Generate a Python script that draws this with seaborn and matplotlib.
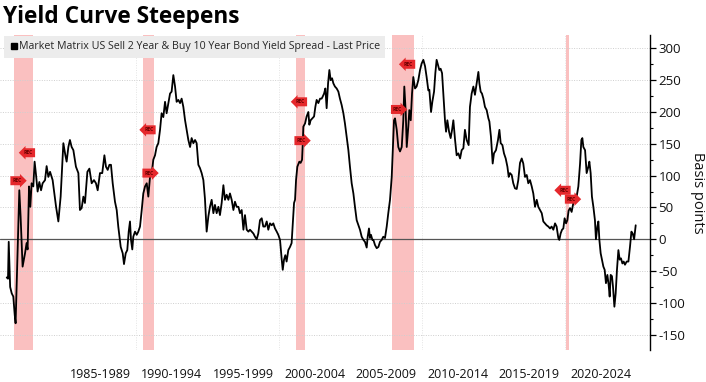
import matplotlib
matplotlib.use("Agg")
import matplotlib.pyplot as plt
import seaborn as sns
import pandas as pd
from matplotlib.lines import Line2D
from matplotlib.ticker import MultipleLocator

# ---------------- data ----------------
years = [
    1980.96, 1981.05, 1981.10, 1981.20, 1981.31, 1981.42, 1981.52, 1981.58, 1981.84, 1981.93,
    1982.07, 1982.24, 1982.35, 1982.42, 1982.52, 1982.61, 1982.70, 1982.82, 1982.91, 1983.01,
    1983.12, 1983.24, 1983.36, 1983.47, 1983.64, 1983.75, 1983.87, 1983.99, 1984.17, 1984.41,
    1984.57, 1984.73, 1984.92, 1985.06, 1985.15, 1985.27, 1985.38, 1985.50, 1985.62, 1985.80,
    1985.97, 1986.08, 1986.20, 1986.32, 1986.43, 1986.60, 1986.74, 1986.90, 1987.06, 1987.20,
    1987.32, 1987.48, 1987.64, 1987.79, 1987.90, 1988.02, 1988.14, 1988.25, 1988.37, 1988.53,
    1988.65, 1988.76, 1988.93, 1989.07, 1989.16, 1989.28, 1989.39, 1989.49, 1989.58, 1989.65,
    1989.74, 1989.81, 1989.93, 1990.05, 1990.16, 1990.28, 1990.40, 1990.51, 1990.63, 1990.75,
    1990.86, 1990.98, 1991.10, 1991.21, 1991.33, 1991.44, 1991.56, 1991.68, 1991.79, 1991.91,
    1992.03, 1992.14, 1992.26, 1992.38, 1992.49, 1992.61, 1992.73, 1992.84, 1992.96, 1993.08,
    1993.19, 1993.31, 1993.43, 1993.54, 1993.66, 1993.78, 1993.89, 1994.01, 1994.13, 1994.24,
    1994.36, 1994.47, 1994.59, 1994.71, 1994.82, 1994.94, 1995.06, 1995.17, 1995.29, 1995.41,
    1995.52, 1995.64, 1995.76, 1995.87, 1995.99, 1996.11, 1996.22, 1996.34, 1996.46, 1996.57,
    1996.69, 1996.81, 1996.92, 1997.04, 1997.16, 1997.27, 1997.39, 1997.51, 1997.62, 1997.74,
    1997.86, 1997.97, 1998.09, 1998.21, 1998.32, 1998.44, 1998.55, 1998.67, 1998.79, 1998.90,
    1999.02, 1999.14, 1999.25, 1999.37, 1999.49, 1999.60, 1999.72, 1999.84, 1999.95, 2000.07,
    2000.19, 2000.26, 2000.35, 2000.44, 2000.53, 2000.65, 2000.77, 2000.88, 2000.95, 2001.05,
    2001.12, 2001.19, 2001.28, 2001.42, 2001.51, 2001.61, 2001.65, 2001.70, 2001.82, 2001.93,
    2002.05, 2002.12, 2002.21, 2002.33, 2002.45, 2002.54, 2002.63, 2002.75, 2002.87, 2002.98,
    2003.05, 2003.15, 2003.24, 2003.33, 2003.43, 2003.52, 2003.61, 2003.71, 2003.80, 2003.91,
    2004.03, 2004.15, 2004.26, 2004.38, 2004.50, 2004.61, 2004.73, 2004.85, 2004.96, 2005.08,
    2005.20, 2005.31, 2005.43, 2005.55, 2005.66, 2005.78, 2005.90, 2006.01, 2006.13, 2006.20,
    2006.29, 2006.36, 2006.43, 2006.53, 2006.60, 2006.71, 2006.83, 2006.95, 2007.06, 2007.18,
    2007.29, 2007.41, 2007.53, 2007.64, 2007.76, 2007.88, 2008.04, 2008.11, 2008.23, 2008.34,
    2008.46, 2008.58, 2008.69, 2008.76, 2008.86, 2008.93, 2009.04, 2009.11, 2009.21, 2009.30,
    2009.39, 2009.51, 2009.62, 2009.74, 2009.86, 2009.97, 2010.09, 2010.21, 2010.32, 2010.44,
    2010.51, 2010.63, 2010.72, 2010.84, 2010.93, 2011.02, 2011.14, 2011.21, 2011.30, 2011.40,
    2011.49, 2011.61, 2011.68, 2011.77, 2011.89, 2012.00, 2012.10, 2012.19, 2012.31, 2012.42,
    2012.54, 2012.66, 2012.77, 2012.89, 2013.00, 2013.12, 2013.26, 2013.35, 2013.47, 2013.59,
    2013.70, 2013.82, 2013.94, 2014.01, 2014.10, 2014.19, 2014.29, 2014.40, 2014.52, 2014.64,
    2014.71, 2014.82, 2014.94, 2015.03, 2015.17, 2015.31, 2015.41, 2015.50, 2015.62, 2015.73,
    2015.85, 2015.97, 2016.06, 2016.15, 2016.27, 2016.38, 2016.50, 2016.62, 2016.73, 2016.85,
    2016.97, 2017.08, 2017.20, 2017.32, 2017.43, 2017.55, 2017.67, 2017.78, 2017.90, 2018.02,
    2018.13, 2018.25, 2018.37, 2018.48, 2018.60, 2018.71, 2018.83, 2018.95, 2019.06, 2019.18,
    2019.30, 2019.41, 2019.53, 2019.60, 2019.69, 2019.79, 2019.88, 2019.97, 2020.07, 2020.16,
    2020.25, 2020.35, 2020.46, 2020.58, 2020.70, 2020.81, 2020.93, 2021.05, 2021.14, 2021.21,
    2021.28, 2021.40, 2021.51, 2021.63, 2021.70, 2021.79, 2021.88, 2021.98, 2022.09, 2022.16,
    2022.26, 2022.33, 2022.40, 2022.49, 2022.58, 2022.68, 2022.77, 2022.86, 2022.96, 2023.05,
    2023.12, 2023.19, 2023.28, 2023.35, 2023.45, 2023.54, 2023.63, 2023.73, 2023.82, 2023.91,
    2024.01, 2024.10, 2024.19, 2024.31, 2024.43, 2024.54, 2024.64, 2024.73, 2024.83, 2024.94,
]
spread = [
    -60, -62, -4, -75, -85, -90, -119, -132, 77, 36,
    -43, -22, -6, -16, 83, 51, 88, 83, 122, 101,
    75, 90, 77, 88, 93, 115, 98, 106, 93, 51,
    28, 67, 151, 132, 122, 145, 156, 145, 140, 114,
    104, 46, 49, 67, 57, 106, 111, 88, 93, 88,
    77, 104, 104, 132, 114, 109, 117, 117, 88, 59,
    46, 20, -12, -22, -39, -22, -17, 12, 28, -1,
    -16, 4, 12, 7, 12, 20, 46, 72, 83, 88,
    67, 98, 104, 125, 132, 145, 151, 172, 198, 192,
    216, 198, 214, 229, 232, 258, 240, 216, 219, 214,
    221, 208, 187, 172, 156, 145, 159, 151, 156, 151,
    117, 112, 104, 93, 64, 12, 36, 51, 62, 41,
    54, 41, 51, 38, 57, 85, 62, 70, 62, 72,
    62, 46, 59, 51, 51, 41, 46, 15, 38, 15,
    12, 15, 12, 9, 4, 0, 9, 30, 33, 20,
    20, 28, 15, 25, 22, 25, 17, 12, 7, -1,
    -32, -48, -32, -25, -35, -17, -12, -6, 20, 57,
    62, 93, 114, 122, 120, 125, 145, 177, 182, 193,
    200, 180, 187, 190, 193, 208, 219, 214, 221, 221,
    224, 229, 237, 206, 245, 266, 250, 253, 245, 240,
    237, 232, 221, 211, 198, 182, 161, 140, 114, 88,
    72, 51, 30, 22, 15, 4, -1, -4, -13, 4,
    17, 2, 7, -1, -1, -9, -14, -12, -4, -1,
    4, 2, 20, 41, 62, 98, 187, 190, 172, 145,
    138, 145, 187, 240, 200, 145, 177, 203, 187, 229,
    255, 237, 240, 250, 266, 276, 282, 272, 255, 234,
    235, 200, 216, 232, 261, 282, 272, 266, 268, 261,
    229, 185, 169, 187, 169, 159, 172, 187, 156, 132,
    135, 127, 140, 143, 172, 156, 148, 208, 229, 240,
    227, 245, 263, 245, 232, 229, 221, 208, 203, 190,
    185, 161, 119, 135, 140, 156, 172, 151, 148, 135,
    127, 114, 98, 104, 101, 88, 80, 79, 93, 120,
    127, 119, 98, 101, 88, 93, 83, 72, 51, 62,
    51, 46, 41, 28, 25, 22, 20, 17, 20, 15,
    25, 20, 2, -1, 9, 15, 17, 33, 25, 30,
    45, 49, 43, 57, 62, 67, 83, 119, 156, 159,
    145, 140, 104, 114, 122, 104, 67, 51, 30, 0,
    20, 28, -1, -22, -32, -43, -48, -69, -56, -72,
    -90, -56, -58, -74, -106, -85, -48, -17, -32, -30,
    -38, -35, -40, -35, -35, -12, 12, 9, 0, 22,
]

recession_start = [1981.50, 1990.50, 2001.17, 2007.90, 2020.04]
recession_end = [1982.83, 1991.27, 2001.83, 2009.45, 2020.25]

tag_years = [1981.68, 1982.48, 1990.91, 1990.91, 2001.50, 2001.54, 2008.29, 2009.06, 2019.93, 2020.45]
tag_values = [92, 136, 104, 172, 216, 155, 204, 275, 77, 63]
tag_dirs = ["r", "l", "r", "l", "l", "r", "r", "l", "l", "r"]
tag_text = "REC"

period_labels = ["1985-1989", "1990-1994", "1995-1999", "2000-2004",
                 "2005-2009", "2010-2014", "2015-2019", "2020-2024"]
period_centers = [1987.5, 1992.5, 1997.5, 2002.5, 2007.5, 2012.5, 2017.5, 2022.5]
decade_lines = [1990, 2000, 2010, 2020]
y_ticks = [-150, -100, -50, 0, 50, 100, 150, 200, 250, 300]

title = "Yield Curve Steepens"
series_name = "Market Matrix US Sell 2 Year & Buy 10 Year Bond Yield Spread - Last Price"
y_label = "Basis points"

# ---------------- plotting ----------------
sns.set_theme(style="white")
plt.rcParams["font.family"] = ["Open Sans", "DejaVu Sans"]
plt.rcParams["axes.unicode_minus"] = False

df = pd.DataFrame({"year": years, "spread": spread})

W, H = 706, 382
fig = plt.figure(figsize=(W / 100, H / 100), dpi=100)
ax = fig.add_axes([0, 1 - 350 / H, 650 / W, 315 / H])

ax.set_xlim(1980.49, 2025.94)
ax.set_ylim(-174, 321)

# recession shading
for s, e in zip(recession_start, recession_end):
    ax.axvspan(s, e, color="#fac0c0", lw=0, zorder=0)

# grid
for v in y_ticks:
    if v != 0:
        ax.axhline(v, color="#cfcfcf", lw=0.7, ls=(0, (1, 1.5)), zorder=1)
for d in decade_lines:
    ax.axvline(d, color="#e4e4e4", lw=0.7, ls=(0, (1, 1.5)), zorder=1)
ax.axhline(0, color="#555555", lw=0.9, zorder=2)

sns.lineplot(data=df, x="year", y="spread", ax=ax, color="black", lw=1.3, zorder=3)

# recession tags
for ty, tv, td in zip(tag_years, tag_values, tag_dirs):
    style = "rarrow,pad=0.4" if td == "r" else "larrow,pad=0.4"
    ax.text(ty, tv, tag_text, fontsize=3.6, color="#6b0000", ha="center", va="center",
            fontweight="bold", zorder=5,
            bbox=dict(boxstyle=style, fc="#e5282c", ec="none"))

# axes styling
for side in ["top", "left", "bottom"]:
    ax.spines[side].set_visible(False)
ax.spines["right"].set_visible(True)
ax.spines["right"].set_color("black")
ax.spines["right"].set_linewidth(1.0)

ax.yaxis.tick_right()
ax.yaxis.set_label_position("right")
ax.set_yticks(y_ticks)
ax.set_yticklabels([str(v) for v in y_ticks])
ax.yaxis.set_minor_locator(MultipleLocator(25))
ax.tick_params(axis="y", which="major", right=True, length=4, width=0.9,
               color="black", pad=2, labelsize=9.5, labelcolor="#111111")
ax.tick_params(axis="y", which="minor", right=True, length=2.5, width=0.8, color="black")
ax.set_ylabel(y_label, rotation=270, labelpad=14, fontsize=10.5, color="#111111")

ax.set_xticks(period_centers)
ax.set_xticklabels(period_labels)
ax.tick_params(axis="x", length=0, pad=13, labelsize=9, labelcolor="#111111")
ax.set_xlabel("")
ax.grid(False)

# legend
handle = Line2D([], [], marker="s", color="black", linestyle="none", markersize=5)
leg = ax.legend([handle], [series_name], loc="upper left",
                bbox_to_anchor=(0.006, 0.997), fontsize=7.7, frameon=True,
                fancybox=False, borderpad=0.5, handletextpad=0.1,
                handlelength=0.8, borderaxespad=0)
leg.get_frame().set_facecolor("#ececec")
leg.get_frame().set_edgecolor("none")
leg.get_frame().set_alpha(1)
leg.set_zorder(6)

fig.text(0.004, 0.988, title, fontsize=16.3, fontweight="bold", va="top", ha="left",
         color="black")

fig.savefig("out.png", dpi=100)
